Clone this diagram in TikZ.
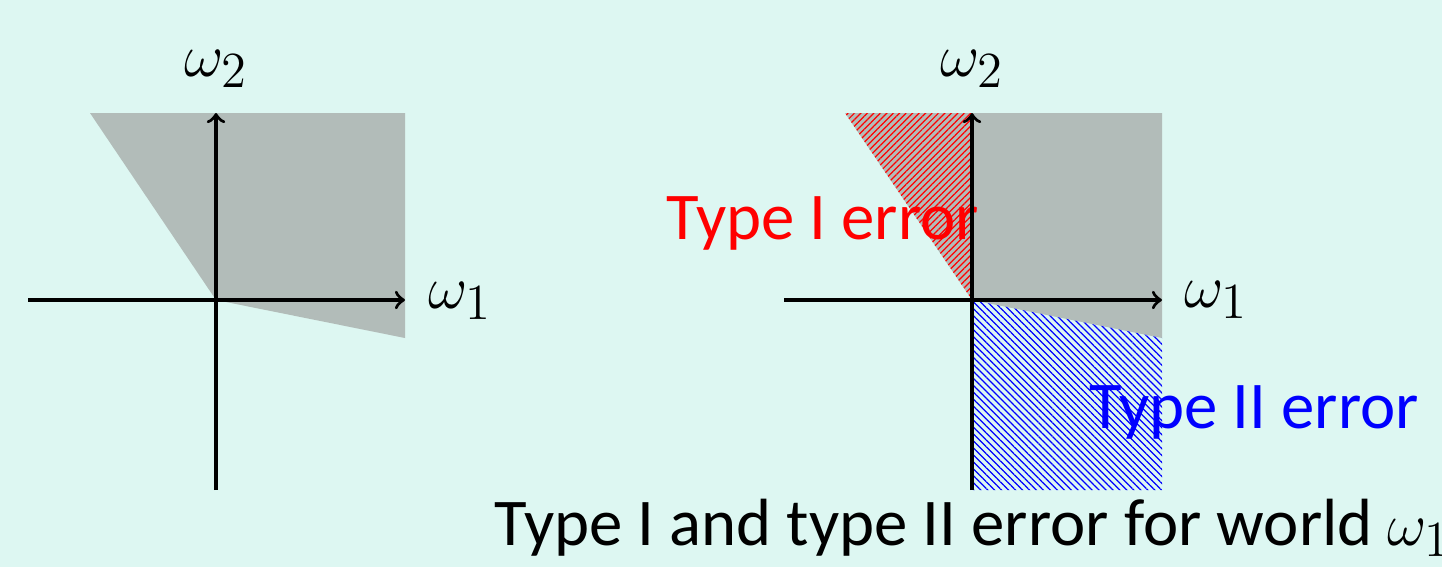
\documentclass[tikz,border=0pt]{standalone}
\usepackage{fontspec}
\setmainfont{Carlito}
\usetikzlibrary{patterns.meta}
\definecolor{bgc}{RGB}{221,247,242}
\definecolor{grayfill}{RGB}{178,188,185}
\begin{document}
\begin{tikzpicture}[x=0.1mm,y=-0.1mm,
  axis/.style={line width=0.95pt,->},
  region/.style={fill=grayfill,draw=none},
  lbl/.style={inner sep=0pt,anchor=base west,font=\fontsize{19}{23}\selectfont},
  redhatch/.style={pattern={Lines[angle=45,distance=1.3pt,line width=0.35pt]},pattern color=red},
  bluehatch/.style={pattern={Lines[angle=-45,distance=1.4pt,line width=0.35pt]},pattern color=blue}]
\fill[bgc] (0,0) rectangle (1442,567);
\useasboundingbox (0,0) rectangle (1442,567);
% left plot
\coordinate (oL) at (216,300);
\fill[region] (90,113) -- (405,113) -- (405,338) -- (oL) -- cycle;
\coordinate (xLs) at (28,300);
\coordinate (xLe) at (405,300);
\coordinate (yLs) at (216,490);
\coordinate (yLe) at (216,113);
\draw[axis] (xLs) -- (xLe);
\draw[axis] (yLs) -- (yLe);
\node[lbl,anchor=base] (w2L) at (216,76) {$\omega_2$};
\node[lbl] (w1L) at (428,308) {$\omega_1$};
% right plot
\coordinate (oR) at (972,300);
\fill[region] (845,113) -- (1162,113) -- (1162,338) -- (oR) -- cycle;
\path[redhatch] (oR) -- (845,113) -- (972,113) -- cycle;
\path[bluehatch] (oR) -- (1162,338) -- (1162,490) -- (972,490) -- cycle;
\node[lbl,text=red] (t1) at (666,239) {Type I error};
\node[lbl,text=blue] (t2) at (1089,428) {Type II error};
\coordinate (xRs) at (784,300);
\coordinate (xRe) at (1162,300);
\coordinate (yRs) at (972,490);
\coordinate (yRe) at (972,113);
\draw[axis] (xRs) -- (xRe);
\draw[axis] (yRs) -- (yRe);
\node[lbl,anchor=base] (w2R) at (972,76) {$\omega_2$};
\node[lbl] (w1R) at (1184,307) {$\omega_1$};
\node[lbl] (cap) at (494,545) {Type I and type II error for world $\omega_1$};
\end{tikzpicture}
\end{document}
